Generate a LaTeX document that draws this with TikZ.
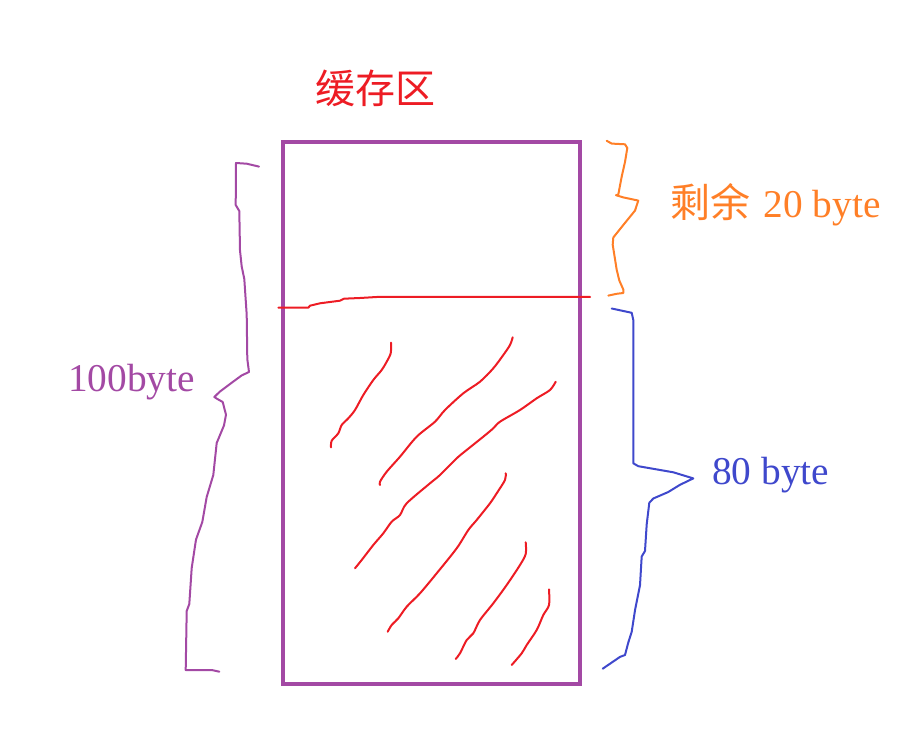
\documentclass[tikz,border=0pt]{standalone}
\usepackage{fontspec}
\setmainfont{Liberation Serif}
\newfontfamily\cjk{Noto Sans CJK SC}
\definecolor{ppurple}{HTML}{A349A4}
\definecolor{pred}{HTML}{ED1C24}
\definecolor{porange}{HTML}{FF7F27}
\definecolor{pblue}{HTML}{3F48CC}
\tikzset{
  pen/.style={line width=1.5pt, line join=round, line cap=round},
  lbl/.style={inner sep=0pt, anchor=base west, font=\fontsize{29.5}{35}\selectfont},
}
\begin{document}
\begin{tikzpicture}[x=0.75pt, y=-0.75pt]
\path[use as bounding box] (0,0) rectangle (900,748);
% buffer box
\node[draw=ppurple, line width=3.2pt, minimum width=297.5*0.75pt, minimum height=542*0.75pt, inner sep=0pt, anchor=north west] (buf) at (280.5,140) {};
% title
\node[inner sep=0pt, text=pred, font=\cjk\fontsize{30}{36}\selectfont] (title) at (375,88) {缓存区};
% labels
\node[lbl, text=porange] (rest) at (670,218) {{\cjk\fontsize{30}{36}\selectfont 剩余}\hspace{10pt}20 byte};
\node[lbl, text=pblue] (used) at (712,484) {80 byte};
\node[lbl, text=ppurple] (total) at (68,391.5) {100byte};
% divider
\draw[pen, pred] (278.3,307.7) -- (308.3,307.7) -- (310,305.7) -- (320,303.3) -- (340,300.7) -- (344,298.7) -- (360,298) -- (376.7,297) -- (590,297);
% hatch strokes
\draw[pen, pred] plot[smooth] coordinates {(391,342.7) (390.7,353.3) (386.7,361.7) (381.7,370) (373.3,380) (363.3,395) (355,410) (348.3,418.3) (341.7,425) (338.3,433.3) (331.7,440.7) (331,447.3)};
\draw[pen, pred] plot[smooth] coordinates {(512.7,337.3) (510,345) (503.3,355) (493.3,368.3) (480,381.7) (463.3,393.3) (445,410) (435,421.7) (416.7,436.7) (400,456.7) (386.7,471.7) (380,481.7) (380,485)};
\draw[pen, pred] plot[smooth] coordinates {(555.7,381.7) (550,390) (536.7,398.3) (520,410) (500,421.7) (493.3,428.3) (483.3,436.7) (466.7,450) (456.7,458.3) (440,475) (430,483.3) (406.7,503.3) (400,515) (391.7,521.7) (383.3,533.3) (373.3,545) (361.7,560) (355,568.3)};
\draw[pen, pred] plot[smooth] coordinates {(505.7,473.3) (505,480) (496.7,493.3) (490,503.3) (476.7,520) (468.3,530) (456.7,548.3) (436.7,573.3) (420,593.3) (406.7,606.7) (398.3,618.3) (391.7,625) (387.7,631.7)};
\draw[pen, pred] plot[smooth] coordinates {(525.7,542.3) (525.7,554) (520,565) (506.7,585) (493.3,603.3) (480,620) (473.3,633.3) (466.7,640) (460,653.3) (455.7,659)};
\draw[pen, pred] plot[smooth] coordinates {(549,589.3) (549,605) (543.3,615) (536.7,630) (526.7,645) (521.7,653.3) (511.7,665)};
% left brace (100byte)
\draw[pen, ppurple] (259,166.6) -- (246.7,163.7) -- (236,163) -- (235.7,205) -- (239.3,211) -- (240,250.5) -- (241.7,266.5) -- (244.3,279) -- (246.7,314.7) -- (247.3,359) -- (249,372) -- (241.7,375.4) -- (230,384) -- (220,391.5) -- (214.3,397) -- (216.7,398.6) -- (222.7,402) -- (226,414.7) -- (224,425.4) -- (216.7,443) -- (213.3,475) -- (206.7,497) -- (202.3,522) -- (196,539.6) -- (191.7,568) -- (189.3,604) -- (186.7,611) -- (185.7,670) -- (211.7,670) -- (219.3,671.7);
% right upper brace (remaining 20 byte)
\draw[pen, porange] (606.7,140.8) -- (611.7,143.6) -- (625,144.3) -- (627.3,148) -- (625,162) -- (621.7,176.6) -- (618.3,194.5) -- (616,195.2) -- (623.3,197.4) -- (638.3,200.6) -- (635,210.6) -- (623.3,225) -- (613.3,237.5) -- (612.7,244.7) -- (616.7,269.8) -- (619.3,280.5) -- (623.3,289.5) -- (623.3,293) -- (616.7,293.8) -- (608.3,295.6);
% right lower brace (80 byte)
\draw[pen, pblue] (611.7,308.5) -- (631.7,312.8) -- (633.3,320) -- (633.3,463.3) -- (638.3,466.2) -- (673.3,472.3) -- (693.3,478.4) -- (680,484.8) -- (668.3,492) -- (653.3,498.5) -- (649.3,502.8) -- (646.7,524.3) -- (645,551) -- (641.7,556.5) -- (640,585.2) -- (635,610.3) -- (631.7,631.8) -- (628.3,642.5) -- (625,655) -- (620,656.9) -- (602.7,668.7);
\end{tikzpicture}
\end{document}
